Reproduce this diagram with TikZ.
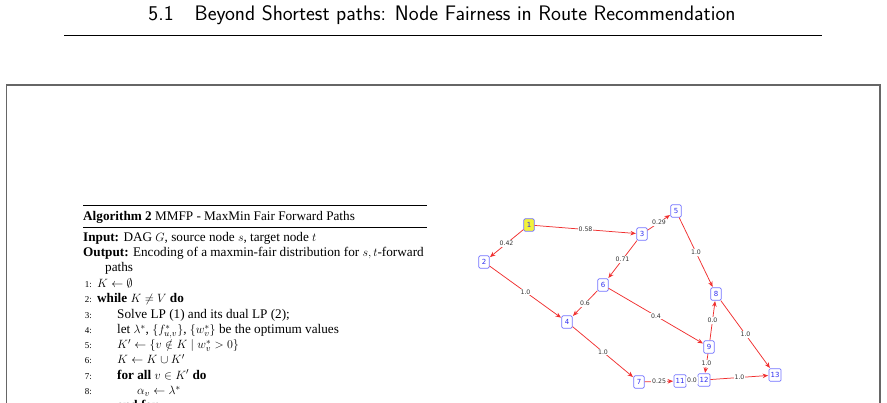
\documentclass[tikz,border=0pt]{standalone}
\usepackage{fontspec}
\setmainfont{Liberation Serif}
\newfontfamily\gfont{DejaVu Sans}
\usetikzlibrary{arrows.meta}
\definecolor{nblue}{HTML}{7373FF}
\definecolor{tblue}{HTML}{3030F0}
\definecolor{ered}{HTML}{F03030}
\definecolor{framegray}{HTML}{666666}
\definecolor{nyellow}{HTML}{F2F23A}
\begin{document}
\begin{tikzpicture}[x=1pt,y=-1pt,
  gn/.style={draw=nblue, line width=0.7pt, rounded corners=1.3pt, fill=white, text=tblue,
    font=\gfont\fontsize{7}{8}\selectfont, inner sep=1.6pt, minimum height=12.5pt, minimum width=10.5pt},
  edge/.style={draw=ered, line width=0.75pt, -{Stealth[length=5.5pt,width=4.5pt]}, shorten >=0.5pt},
  el/.style={fill=white, inner sep=0.8pt, text=black!80, font=\gfont\fontsize{6.2}{7}\selectfont},
  algl/.style={anchor=base west, inner sep=0pt, font=\fontsize{13.2}{15}\selectfont},
  num/.style={anchor=base east, inner sep=0pt, font=\fontsize{9}{10}\selectfont},
]
\useasboundingbox (0,0) rectangle (887,403);
\clip (0,0) rectangle (887,403);
% header
\node[font=\sffamily\fontsize{21}{23}\selectfont, inner sep=0pt] (hdr) at (442,15)
  {5.1\quad Beyond Shortest paths: Node Fairness in Route Recommendation};
\draw[line width=0.8pt] (64,35) -- (822,35);
% frame
\draw[framegray, line width=1.3pt] (6.5,430) -- (6.5,85) -- (880,85) -- (880,430);
% algorithm
\draw[line width=1.2pt] (83,205.5) -- (427,205.5);
\node[algl] (cap) at (83,221) {\textbf{Algorithm 2} MMFP - MaxMin Fair Forward Paths};
\draw[line width=0.6pt] (83,227.5) -- (427,227.5);
\node[algl] (inp) at (83,242) {\textbf{Input:} DAG $G$, source node $s$, target node $t$};
\node[algl] (outp) at (83,257) {\textbf{Output:} Encoding of a maxmin-fair distribution for $s,t$-forward};
\node[algl] (paths) at (105,272) {paths};
\node[num] (l1n) at (92,287.5) {1:};
\node[algl] (l1) at (97,287.5) {$K \leftarrow \emptyset$};
\node[num] (l2n) at (92,302.8) {2:};
\node[algl] (l2) at (97,302.8) {\textbf{while} $K \neq V$ \textbf{do}};
\node[num] (l3n) at (92,318.1) {3:};
\node[algl] (l3) at (117,318.1) {Solve LP (1) and its dual LP (2);};
\node[num] (l4n) at (92,333.4) {4:};
\node[algl] (l4) at (117,333.4) {let $\lambda^*$, $\{f^*_{u,v}\}$, $\{w^*_v\}$ be the optimum values};
\node[num] (l5n) at (92,348.7) {5:};
\node[algl] (l5) at (117,348.7) {$K' \leftarrow \{v \notin K \mid w^*_v > 0\}$};
\node[num] (l6n) at (92,364) {6:};
\node[algl] (l6) at (117,364) {$K \leftarrow K \cup K'$};
\node[num] (l7n) at (92,379.3) {7:};
\node[algl] (l7) at (117,379.3) {\textbf{for all} $v \in K'$ \textbf{do}};
\node[num] (l8n) at (92,394.6) {8:};
\node[algl] (l8) at (137,394.6) {$\alpha_v \leftarrow \lambda^*$};
\node[algl] (l9) at (117,409.9) {\textbf{end for}};
% graph nodes
\node[gn, fill=nyellow] (n1) at (529,225) {1};
\node[gn] (n2) at (484,262) {2};
\node[gn] (n3) at (642,234) {3};
\node[gn] (n4) at (567,322) {4};
\node[gn] (n5) at (676,211) {5};
\node[gn] (n6) at (603,285) {6};
\node[gn] (n7) at (639,382) {7};
\node[gn] (n8) at (716,294) {8};
\node[gn] (n9) at (709,347) {9};
\node[gn] (n11) at (680,381) {11};
\node[gn] (n12) at (704,380) {12};
\node[gn] (n13) at (775,375) {13};
% edges
\draw[edge] (n1) -- node[el]{0.42} (n2);
\draw[edge] (n1) -- node[el]{0.58} (n3);
\draw[edge] (n3) -- node[el]{0.29} (n5);
\draw[edge] (n3) -- node[el]{0.71} (n6);
\draw[edge] (n2) -- node[el]{1.0} (n4);
\draw[edge] (n6) -- node[el]{0.6} (n4);
\draw[edge] (n6) -- node[el]{0.4} (n9);
\draw[edge] (n5) -- node[el]{1.0} (n8);
\draw[edge] (n9) -- node[el]{0.0} (n8);
\draw[edge] (n8) -- node[el]{1.0} (n13);
\draw[edge] (n4) -- node[el]{1.0} (n7);
\draw[edge] (n7) -- node[el]{0.25} (n11);
\draw[edge] (n11) -- node[el]{0.0} (n12);
\draw[edge] (n9) -- node[el]{1.0} (n12);
\draw[edge] (n12) -- node[el]{1.0} (n13);
\end{tikzpicture}
\end{document}
